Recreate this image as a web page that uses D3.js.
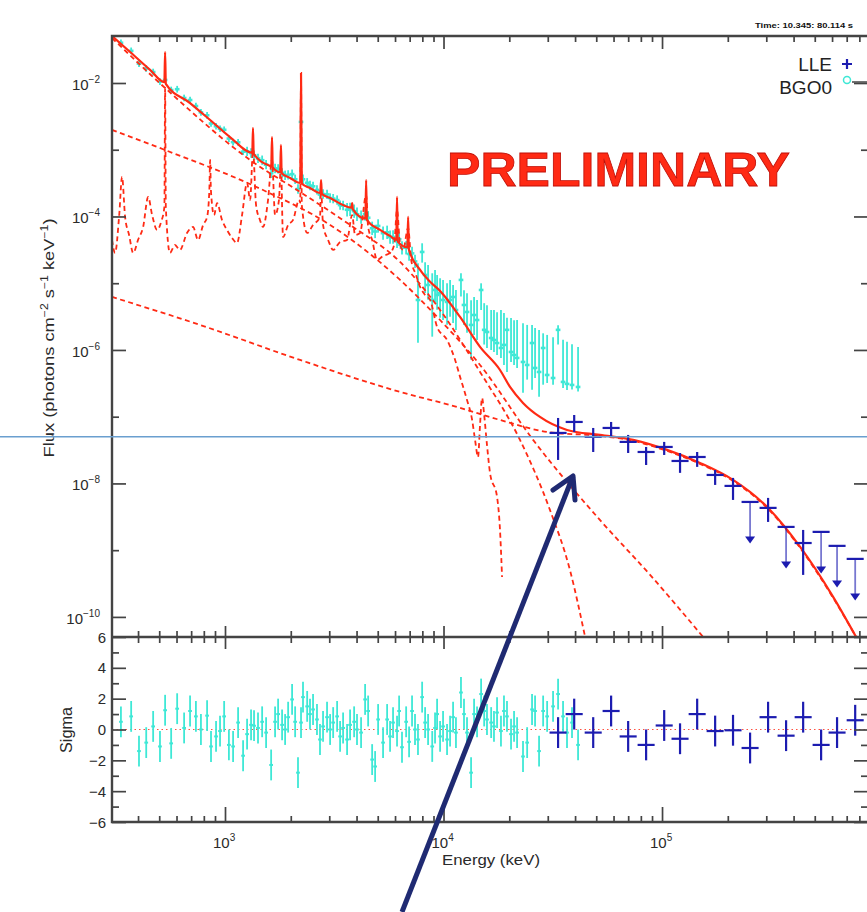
<!DOCTYPE html>
<html>
<head>
<meta charset="utf-8">
<script src="https://cdn.jsdelivr.net/npm/d3@7"></script>
<style>
body { margin: 0; background: #fff; }
text { font-family: "Liberation Sans", Arial, sans-serif; }
</style>
</head>
<body>
<div id="chart"></div>
<script>
// ---- data (energy in keV, flux in photons cm^-2 s^-1 keV^-1) ----
var bgoE = [334,372,404,436,469,504,532,567,604,650,692,736,776,828,863,910,949,991,1042,1089,
  1148,1210,1262,1316,1358,1416,1479,1542,1626,1695,1750,1825,1884,1945,2028,2094,2158,2228,2275,2377,
  2449,2529,2636,2721,2810,2931,3027,3126,3259,3363,3471,3620,3736,3899,4019,4195,4377,4519,4714,4864,
  5020,5289,5520,5694,5876,6128,6264,6457,6745,6957,7178,7406,7641,7983,8237,8499,8879,9146,9346,9645,
  9952,10380,10715,11060,11400,12020,12410,12810,13370,13800,14240,14860,15350,15810,16520,17020,17580,18320,18910,19520,
  20370,21030,21710,23110,24140,25420,26240,27370,28570,29800,31720,33440,35240,36740,38730,41280];
var bgoF = [4.01e-2,3.03e-2,1.95e-2,1.65e-2,1.46e-2,1.05e-2,1.11e-2,7.85e-3,8.07e-3,5.96e-3,
  5.56e-3,4.52e-3,3.63e-3,3.28e-3,2.47e-3,2.25e-3,2.06e-3,1.99e-3,1.47e-3,1.30e-3,
  1.29e-3,9.35e-4,9.44e-4,8.93e-4,8.28e-4,7.41e-4,6.97e-4,5.97e-4,4.43e-4,5.24e-4,
  5.16e-4,4.50e-4,4.14e-4,4.20e-4,4.31e-4,3.61e-4,2.58e-4,2.61e-3,3.61e-4,3.20e-4,
  2.91e-4,2.83e-4,2.50e-4,2.13e-4,2.17e-4,2.14e-4,1.89e-4,1.85e-4,1.76e-4,1.48e-4,
  1.46e-4,1.26e-4,1.28e-4,1.20e-4,1.08e-4,9.8e-5,1.09e-4,9.57e-5,6.65e-5,5.96e-5,
  7.21e-5,5.62e-5,5.79e-5,4.91e-5,4.93e-5,4.26e-5,4.55e-5,3.39e-5,3.40e-5,2.74e-5,
  2.80e-5,2.12e-5,5.61e-6,2.94e-5,1.33e-5,9.42e-6,5.61e-6,7.92e-6,6.67e-6,7.14e-6,
  5.61e-6,5.24e-6,5.61e-6,6.22e-6,3.97e-6,1.12e-5,4.72e-6,3.71e-6,2.37e-6,3.34e-6,
  2.81e-6,7.92e-6,2.0e-6,1.86e-6,1.51e-6,1.41e-6,1.27e-6,1.07e-6,1.19e-6,2.0e-6,
  9.33e-7,8.41e-7,7.59e-7,6.61e-7,5.96e-7,1.27e-6,5.37e-7,4.68e-7,1.07e-6,4.22e-7,
  3.80e-7,2.0e-6,3.32e-7,3.10e-7,2.99e-7,2.79e-7];
// error bar sizes in decades (up / down)
var bgoUp = [0.05,0.05,0.05,0.05,0.05,0.05,0.05,0.05,0.05,0.05,0.05,0.05,0.05,0.05,0.05,0.05,0.05,0.05,0.05,0.05,0.05,0.05,
  0.07,0.07,0.07,0.07,0.07,0.07,0.07,0.07,0.07,0.07,0.07,0.07,0.07,0.07,0.07,0.07,0.07,0.07,0.07,0.07,0.07,0.07,0.07,0.07,0.07,0.07,0.07,0.07,0.07,
  0.1,0.1,0.1,0.1,0.1,0.1,0.1,0.1,0.1,0.1,0.1,0.1,0.1,0.1,0.1,0.1,0.1,0.1,0.1,0.1,0.1,
  0.55,0.13,0.19,0.30,0.40,0.30,0.30,0.22,0.30,0.28,0.30,0.18,0.30,0.10,0.22,0.28,0.37,0.27,0.30,0.10,
  0.40,0.40,0.42,0.45,0.46,0.57,0.48,0.18,0.51,0.52,0.57,0.58,0.60,0.27,0.60,0.63,0.22,0.60,0.61,0.07,
  0.63,0.63,0.61,0.60];
var bgoDn = [0.05,0.05,0.05,0.05,0.05,0.05,0.05,0.05,0.05,0.05,0.05,0.05,0.05,0.05,0.05,0.05,0.05,0.05,0.05,0.05,0.05,0.05,
  0.07,0.07,0.07,0.07,0.07,0.07,0.07,0.07,0.07,0.07,0.07,0.07,0.07,0.07,0.07,0.07,0.07,0.07,0.07,0.07,0.07,0.07,0.07,0.07,0.07,0.07,0.07,0.07,0.07,
  0.1,0.1,0.1,0.1,0.1,0.1,0.1,0.1,0.1,0.1,0.1,0.1,0.1,0.1,0.1,0.1,0.1,0.1,0.1,0.1,0.1,
  0.64,0.16,0.27,0.22,0.55,0.19,0.22,0.37,0.30,0.34,0.25,0.39,0.30,0.25,0.30,0.31,0.52,0.30,0.30,0.30,
  0.22,0.24,0.18,0.18,0.18,0.15,0.30,0.63,0.15,0.15,0.15,0.46,0.22,0.70,0.15,0.37,0.55,0.12,0.10,0.22,
  0.09,0.09,0.07,0.07];
var bgoRes = [0.5,0.85,-1.4,-0.85,0.2,-1.1,1.25,-0.9,1.35,0.1,1.2,0.85,0,0.9,-1.1,-0.45,-0.1,0.85,-1.0,-1.1,
  0.45,-1.7,-0.3,0.3,0.25,0.1,0.5,-0.2,-2.3,0.5,1.0,0.3,0,0.8,1.95,0.5,-2.8,0.45,2.1,1.5,
  1.0,1.3,0.65,-0.65,0.2,0.8,0,0.45,0.85,-0.45,0.1,-0.65,0.3,0.5,0,-0.2,1.95,1.2,-1.95,-2.4,
  0.65,-0.85,0.65,-0.45,0.45,-0.1,1.2,-1.15,0.5,-0.8,1.2,0,-0.65,2.1,0.45,0,-1.1,0.1,1.0,-0.45,
  0.2,-0.65,-0.1,0.8,-0.2,2.4,1.0,-0.2,-2.8,1.0,0.5,2.3,1.2,0.65,0.45,0.2,1.1,-0.1,1.2,0.85,
  -0.3,0.2,-0.2,-1.75,-0.85,1.3,1.2,-1.4,1.2,0.85,1.5,2.3,0.85,-0.2,0.45,-1.0];

var lleE = [33440,39630,48420,58480,69980,84560,102300,120900,144800,175000,211300,252900,305700,369600,442400,534600,632400,765500];
var lleF = [5.71e-8,8.34e-8,4.98e-8,6.78e-8,4.19e-8,2.96e-8,3.52e-8,2.17e-8,2.49e-8,1.34e-8,9.18e-9,5.28e-9,4.30e-9,2.23e-9,1.28e-9,1.88e-9,1.16e-9,7.40e-10];
var lleHi = [9.57e-8,1.06e-7,6.78e-8,8.34e-8,5.33e-8,3.52e-8,4.19e-8,2.86e-8,2.96e-8,1.59e-8,1.21e-8,null,6.07e-9,null,2.01e-9,null,null,null];
var lleLo = [2.25e-8,5.91e-8,2.96e-8,4.98e-8,2.86e-8,1.89e-8,2.67e-8,1.44e-8,1.77e-8,9.5e-9,5.66e-9,null,2.65e-9,null,4.26e-10,null,null,null];
var lleRes = [-0.2,1.0,-0.2,1.2,-0.45,-1.0,0.26,-0.6,1.0,-0.1,-0.05,-1.2,0.8,-0.4,0.8,-1.0,-0.2,0.6];

// model: total (solid) and components (dashed)
var totalModel = [[304,5.06e-2],[368,2.91e-2],[454,1.57e-2],[528,1.03e-2],[532,2.91e-2],[536,9.7e-3],[692,5.01e-3],
  [855,2.79e-3],[1054,1.55e-3],[1333,9.0e-4],[1343,2.12e-3],[1353,8.7e-4],[1606,5.71e-4],[1628,5.6e-4],[1641,1.55e-3],[1654,5.45e-4],
  [1789,4.6e-4],[1803,1.18e-3],[1817,4.45e-4],[1985,3.78e-4],[2210,3.18e-4],[2228,1.41e-2],[2246,3.12e-4],[2449,2.67e-4],
  [2730,2.25e-4],[2752,3.52e-4],[2774,2.18e-4],[3027,1.89e-4],[3788,1.36e-4],[3818,1.59e-4],[3848,1.28e-4],[4390,9.3e-5],
  [4425,3.52e-4],[4460,8.9e-5],[5125,6.28e-5],[5694,5.11e-5],[6080,4.45e-5],[6128,1.96e-4],[6176,4.2e-5],[6832,3.45e-5],
  [6887,9.84e-5],[6942,3.2e-5],[7814,1.58e-5],[8681,1.05e-5],[9645,7.66e-6],[11904,3.12e-6],[14693,1.11e-6],[18135,5.01e-7],
  [20148,2.79e-7],[23110,1.61e-7],[27628,9.91e-8],[36740,6.33e-8],[51950,5.33e-8],[73750,4.49e-8],[105400,3.18e-8],
  [149200,2.03e-8],[211300,1.13e-8],[302500,4.45e-9],[428600,1.12e-9],[606700,2.0e-10],[773000,5.01e-11]];
var steepComp = [[304,4.72e-2],[532,8.41e-3],[1303,7.02e-4],[2205,2.33e-4],[3736,7.46e-5],[6327,2.08e-5],[9645,3.97e-6],
  [14693,4.68e-7],[22384,4.49e-8],[30694,4.01e-9],[37885,5.06e-10],[44460,5.01e-11]];
var cutoffComp = [[304,1.98e-3],[532,9.91e-4],[1493,2.49e-4],[3027,7.46e-5],[6327,1.12e-5],[9645,2.81e-6],[14693,5.96e-7],
  [25700,4.49e-8],[51950,2.84e-9],[88190,4.26e-10],[154200,5.01e-11]];
var pionComp = [[304,6.22e-6],[769,2.37e-6],[2205,7.08e-7],[6327,2.35e-7],[11530,1.40e-7],[18135,8.93e-8],[29800,5.91e-8],
  [51950,5.15e-8],[73750,4.34e-8],[105400,3.07e-8],[149200,1.96e-8],[211300,1.09e-8],[302500,4.30e-9],[428600,1.08e-9],
  [606700,1.93e-10],[773000,5.01e-11]];
var lineComp = [[304,4.45e-5],[314,2.84e-5],[328,1.05e-4],[338,3.91e-4],[349,9.84e-5],[364,5.28e-5],[380,2.84e-5],[400,4.45e-5],
  [422,6.97e-5],[445,1.96e-4],[464,1.05e-4],[489,6.28e-5],[510,8.28e-5],[528,1.39e-4],[532,8.41e-3],[536,1.39e-4],[560,2.84e-5],
  [590,3.74e-5],[622,3.15e-5],[670,5.66e-5],[714,6.97e-5],[753,4.45e-5],[794,7.46e-5],[828,9.84e-5],[848,2.49e-4],[855,7.02e-4],
  [862,2.49e-4],[891,1.05e-4],[920,1.59e-4],[969,8.87e-5],[1021,6.28e-5],[1077,4.76e-5],[1135,4.01e-5],[1197,1.05e-4],
  [1262,3.18e-4],[1303,1.77e-4],[1343,9.91e-4],[1387,1.49e-4],[1445,8.87e-5],[1493,6.97e-5],[1574,1.77e-4],[1641,7.02e-4],
  [1695,1.05e-4],[1766,1.77e-4],[1803,5.91e-4],[1843,4.93e-5],[1945,7.46e-5],[2049,8.87e-5],[2183,1.77e-4],[2210,1.6e-4],[2228,1.19e-2],
  [2246,1.49e-4],[2377,5.66e-5],[2529,7.46e-5],[2721,9.84e-5],[2752,2.49e-4],[2810,7.46e-5],[2964,4.45e-5],[3126,3.15e-5],
  [3363,4.15e-5],[3620,4.45e-5],[3818,1.05e-4],[3937,5.28e-5],[4151,5.66e-5],[4425,2.10e-4],[4519,6.97e-5],[4714,4.45e-5],
  [4966,2.23e-5],[5289,2.56e-5],[5694,2.84e-5],[5943,3.74e-5],[6128,1.25e-4],[6327,3.74e-5],[6531,3.15e-5],[6887,6.73e-5],
  [7112,2.23e-5],[7486,1.33e-5],[7814,8.79e-6],[8237,6.67e-6],[8681,5.61e-6],[9346,2.21e-6],[10380,1.41e-6],[11300,7.08e-7],
  [11904,3.95e-7],[12810,1.78e-7],[13520,8.93e-8],[13940,4.49e-8],[14390,2.49e-8],[14693,7.52e-8],[15010,1.91e-7],
  [15350,1.06e-7],[15810,3.78e-8],[16324,1.44e-8],[17580,6.28e-9],[18135,2.01e-9],[18530,3.97e-10]];

var fluxMajor = [1e-2,1e-4,1e-6,1e-8,1e-10];
var fluxMinor = [1e-3,1e-5,1e-7,1e-9];
var fluxLabels = ['\u22122','\u22124','\u22126','\u22128','\u221210'];
var energyMajor = [1e3,1e4,1e5];
var energyLabels = ['3','4','5'];
var energyMinor = [400,500,600,700,800,900,2e3,3e3,4e3,5e3,6e3,7e3,8e3,9e3,
  2e4,3e4,4e4,5e4,6e4,7e4,8e4,9e4,2e5,3e5,4e5,5e5,6e5,7e5,8e5];
var sigmaMajor = [-6,-4,-2,0,2,4,6];
var sigmaMinor = [-5,-3,-1,1,3,5];
var markFlux = 5e-8;   // horizontal reference line

// ---- layout ----
var width = 867, height = 912;
var red = '#ff2a14', cyan = '#3ee8d6', blue = '#1c1cb0', axisCol = '#444', textCol = '#2a2a2a';

var svg = d3.select('#chart').append('svg')
    .attr('width', width)
    .attr('height', height);

var x = d3.scaleLog().domain([304, 8.67e5]).range([112, 867]);
var y = d3.scaleLog().domain([5.06e-2, 5.0e-11]).range([36, 637]);
var ys = d3.scaleLinear().domain([-6, 6]).range([822, 637]);

var defs = svg.append('defs');
defs.append('clipPath').attr('id', 'clipTop').append('rect')
    .attr('x', 112).attr('y', 36).attr('width', 756).attr('height', 601);
defs.append('clipPath').attr('id', 'clipBot').append('rect')
    .attr('x', 112).attr('y', 637).attr('width', 756).attr('height', 185);

var idx = d3.range(bgoE.length);
var lidx = d3.range(lleE.length);

// ---- top panel ----
var topG = svg.append('g').attr('clip-path', 'url(#clipTop)');

// BGO points
topG.selectAll('line.bgov').data(idx).enter().append('line')
    .attr('x1', function(i) { return x(bgoE[i]); })
    .attr('x2', function(i) { return x(bgoE[i]); })
    .attr('y1', function(i) { return y(bgoF[i] * Math.pow(10, bgoUp[i])); })
    .attr('y2', function(i) { return y(bgoF[i] / Math.pow(10, bgoDn[i])); })
    .attr('stroke', cyan).attr('stroke-width', 1.8);
topG.selectAll('line.bgoh').data(idx).enter().append('line')
    .attr('x1', function(i) { return x(bgoE[i] / 1.025); })
    .attr('x2', function(i) { return x(bgoE[i] * 1.025); })
    .attr('y1', function(i) { return y(bgoF[i]); })
    .attr('y2', function(i) { return y(bgoF[i]); })
    .attr('stroke', cyan).attr('stroke-width', 2.6);

var line = d3.line()
    .x(function(d) { return x(d[0]); })
    .y(function(d) { return y(d[1]); })
    .curve(d3.curveMonotoneX);

[steepComp, cutoffComp, pionComp, lineComp].forEach(function(c) {
    topG.append('path').attr('d', line(c))
        .attr('fill', 'none').attr('stroke', red)
        .attr('stroke-width', 1.8).attr('stroke-dasharray', '5,3.5');
});
topG.append('path').attr('d', line(totalModel))
    .attr('fill', 'none').attr('stroke', red).attr('stroke-width', 2.2);

// LLE points
var lleHalf = Math.pow(10, 0.039);
topG.selectAll('line.lleh').data(lidx).enter().append('line')
    .attr('x1', function(i) { return x(lleE[i] / lleHalf); })
    .attr('x2', function(i) { return x(lleE[i] * lleHalf); })
    .attr('y1', function(i) { return y(lleF[i]); })
    .attr('y2', function(i) { return y(lleF[i]); })
    .attr('stroke', blue).attr('stroke-width', 2.2);
var lleErr = lidx.filter(function(i) { return lleHi[i] !== null; });
var lleUL = lidx.filter(function(i) { return lleHi[i] === null; });
topG.selectAll('line.llev').data(lleErr).enter().append('line')
    .attr('x1', function(i) { return x(lleE[i]); })
    .attr('x2', function(i) { return x(lleE[i]); })
    .attr('y1', function(i) { return y(lleHi[i]); })
    .attr('y2', function(i) { return y(lleLo[i]); })
    .attr('stroke', blue).attr('stroke-width', 2.2);
topG.selectAll('line.lleul').data(lleUL).enter().append('line')
    .attr('x1', function(i) { return x(lleE[i]); })
    .attr('x2', function(i) { return x(lleE[i]); })
    .attr('y1', function(i) { return y(lleF[i]); })
    .attr('y2', function(i) { return y(lleF[i] / 4.2) - 4; })
    .attr('stroke', blue).attr('stroke-opacity', 0.6).attr('stroke-width', 1.8);
topG.selectAll('path.lleArrow').data(lleUL).enter().append('path')
    .attr('d', function(i) {
        var px = x(lleE[i]), py = y(lleF[i] / 4.2);
        return 'M' + (px - 5) + ',' + (py - 7) + 'L' + (px + 5) + ',' + (py - 7) + 'L' + px + ',' + py + 'Z';
    })
    .attr('fill', blue);

// ---- residual panel ----
var botG = svg.append('g').attr('clip-path', 'url(#clipBot)');
botG.append('line')
    .attr('x1', 112).attr('x2', 867).attr('y1', ys(0)).attr('y2', ys(0))
    .attr('stroke', '#ff5040').attr('stroke-width', 1.2).attr('stroke-dasharray', '1.5,3');
botG.selectAll('line.rbv').data(idx).enter().append('line')
    .attr('x1', function(i) { return x(bgoE[i]); })
    .attr('x2', function(i) { return x(bgoE[i]); })
    .attr('y1', function(i) { return ys(bgoRes[i] + 1); })
    .attr('y2', function(i) { return ys(bgoRes[i] - 1); })
    .attr('stroke', cyan).attr('stroke-width', 1.8);
botG.selectAll('line.rbh').data(idx).enter().append('line')
    .attr('x1', function(i) { return x(bgoE[i] / 1.02); })
    .attr('x2', function(i) { return x(bgoE[i] * 1.02); })
    .attr('y1', function(i) { return ys(bgoRes[i]); })
    .attr('y2', function(i) { return ys(bgoRes[i]); })
    .attr('stroke', cyan).attr('stroke-width', 2);
botG.selectAll('line.rlv').data(lidx).enter().append('line')
    .attr('x1', function(i) { return x(lleE[i]); })
    .attr('x2', function(i) { return x(lleE[i]); })
    .attr('y1', function(i) { return ys(lleRes[i] + 1); })
    .attr('y2', function(i) { return ys(lleRes[i] - 1); })
    .attr('stroke', blue).attr('stroke-width', 2.2);
botG.selectAll('line.rlh').data(lidx).enter().append('line')
    .attr('x1', function(i) { return x(lleE[i] / lleHalf); })
    .attr('x2', function(i) { return x(lleE[i] * lleHalf); })
    .attr('y1', function(i) { return ys(lleRes[i]); })
    .attr('y2', function(i) { return ys(lleRes[i]); })
    .attr('stroke', blue).attr('stroke-width', 2.2);

// ---- axes ----
function styleAxis(g) {
    g.select('.domain').remove();
    g.selectAll('.tick line').attr('stroke', axisCol).attr('stroke-width', 1.7);
    g.selectAll('.tick text').remove();
}
function addAxis(axis, tx, ty) {
    svg.append('g').attr('transform', 'translate(' + tx + ',' + ty + ')').call(axis).call(styleAxis);
}
addAxis(d3.axisLeft(y).tickValues(fluxMajor).tickSize(-14), 112, 0);
addAxis(d3.axisLeft(y).tickValues(fluxMinor).tickSize(-7), 112, 0);
addAxis(d3.axisRight(y).tickValues(fluxMajor).tickSize(-14), 868, 0);
addAxis(d3.axisRight(y).tickValues(fluxMinor).tickSize(-7), 868, 0);
addAxis(d3.axisTop(x).tickValues(energyMajor).tickSize(-13), 0, 36);
addAxis(d3.axisTop(x).tickValues(energyMinor).tickSize(-6), 0, 36);
addAxis(d3.axisBottom(x).tickValues(energyMajor).tickSize(-11), 0, 637);
addAxis(d3.axisBottom(x).tickValues(energyMinor).tickSize(-6), 0, 637);
addAxis(d3.axisTop(x).tickValues(energyMajor).tickSize(-12), 0, 637);
addAxis(d3.axisTop(x).tickValues(energyMinor).tickSize(-6), 0, 637);
addAxis(d3.axisBottom(x).tickValues(energyMajor).tickSize(-15), 0, 822);
addAxis(d3.axisBottom(x).tickValues(energyMinor).tickSize(-6), 0, 822);
addAxis(d3.axisLeft(ys).tickValues(sigmaMajor).tickSize(-14), 112, 0);
addAxis(d3.axisLeft(ys).tickValues(sigmaMinor).tickSize(-7), 112, 0);
addAxis(d3.axisRight(ys).tickValues(sigmaMajor).tickSize(-14), 868, 0);
addAxis(d3.axisRight(ys).tickValues(sigmaMinor).tickSize(-7), 868, 0);

// frame
svg.append('path')
    .attr('d', 'M868,36H112V822H868M112,637H868')
    .attr('fill', 'none').attr('stroke', axisCol).attr('stroke-width', 2.4);

// tick labels
fluxMajor.forEach(function(v, i) {
    var t = svg.append('text').attr('x', 100).attr('y', y(v) + 7)
        .attr('text-anchor', 'end').attr('font-size', 15).attr('fill', textCol);
    t.append('tspan').text('10');
    t.append('tspan').attr('dy', -7).attr('font-size', 10).text(fluxLabels[i]);
});
energyMajor.forEach(function(v, i) {
    var t = svg.append('text').attr('x', x(v) - 12).attr('y', 848)
        .attr('font-size', 15).attr('fill', textCol);
    t.append('tspan').text('10');
    t.append('tspan').attr('dy', -7).attr('font-size', 10).text(energyLabels[i]);
});
sigmaMajor.forEach(function(v) {
    svg.append('text').attr('x', 106).attr('y', ys(v) + 5.5)
        .attr('text-anchor', 'end').attr('font-size', 15).attr('fill', textCol)
        .text(v < 0 ? '\u2212' + (-v) : String(v));
});

// axis titles
var yt = svg.append('text')
    .attr('transform', 'translate(54,338) rotate(-90)')
    .attr('text-anchor', 'middle').attr('font-size', 15).attr('fill', textCol)
    .attr('textLength', 239).attr('lengthAdjust', 'spacingAndGlyphs');
[['Flux (photons cm', 0], ['\u22122', 1], [' s', 0], ['\u22121', 1], [' keV', 0], ['\u22121', 1], [')', 0]].forEach(function(p, k, arr) {
    var dy = p[1] ? -6 : (k > 0 && arr[k - 1][1] ? 6 : 0);
    yt.append('tspan').attr('dy', dy).attr('font-size', p[1] ? 10 : 15).text(p[0]);
});
svg.append('text')
    .attr('transform', 'translate(72,730) rotate(-90)')
    .attr('text-anchor', 'middle').attr('font-size', 16).attr('fill', textCol)
    .attr('textLength', 46).attr('lengthAdjust', 'spacingAndGlyphs')
    .text('Sigma');
svg.append('text').attr('x', 491).attr('y', 865)
    .attr('text-anchor', 'middle').attr('font-size', 15.5).attr('fill', textCol)
    .attr('textLength', 98).attr('lengthAdjust', 'spacingAndGlyphs')
    .text('Energy (keV)');

// legend
svg.append('text').attr('x', 832).attr('y', 71).attr('text-anchor', 'end')
    .attr('font-size', 19).attr('fill', '#222').text('LLE');
svg.append('text').attr('x', 832).attr('y', 94).attr('text-anchor', 'end')
    .attr('font-size', 19).attr('fill', '#222').text('BGO0');
svg.append('path').attr('d', 'M842,64H852M847,59V69')
    .attr('stroke', blue).attr('stroke-width', 2.2);
svg.append('circle').attr('cx', 847).attr('cy', 80).attr('r', 3.5)
    .attr('fill', 'none').attr('stroke', cyan).attr('stroke-width', 1.5);
svg.append('line').attr('x1', 852).attr('x2', 867).attr('y1', 82).attr('y2', 82)
    .attr('stroke', '#444').attr('stroke-width', 1.5);

svg.append('text').attr('x', 755).attr('y', 28)
    .attr('font-size', 7).attr('font-weight', 'bold').attr('fill', '#111')
    .attr('textLength', 98).attr('lengthAdjust', 'spacingAndGlyphs')
    .text('Time: 10.345: 80.114 s');

// annotations
svg.append('line')
    .attr('x1', 0).attr('x2', width).attr('y1', y(markFlux)).attr('y2', y(markFlux))
    .attr('stroke', '#6a9fcf').attr('stroke-width', 1.5);

svg.append('text').attr('x', 447).attr('y', 186)
    .attr('font-family', '"DejaVu Sans", sans-serif')
    .attr('font-size', 48).attr('font-weight', 'bold')
    .attr('fill', '#ff2a14').attr('stroke', '#c01008').attr('stroke-width', 0.8)
    .attr('textLength', 343).attr('lengthAdjust', 'spacingAndGlyphs')
    .text('PRELIMINARY');

var tipX = 573, tipY = 476;
svg.append('path')
    .attr('d', 'M402,912L' + tipX + ',' + tipY)
    .attr('stroke', '#1f2a72').attr('stroke-width', 5).attr('fill', 'none');
svg.append('path')
    .attr('d', 'M' + (tipX - 20) + ',' + (tipY + 14) + 'L' + tipX + ',' + tipY + 'L' + (tipX + 2) + ',' + (tipY + 24))
    .attr('stroke', '#1f2a72').attr('stroke-width', 5).attr('fill', 'none')
    .attr('stroke-linejoin', 'round').attr('stroke-linecap', 'round');
</script>
</body>
</html>
